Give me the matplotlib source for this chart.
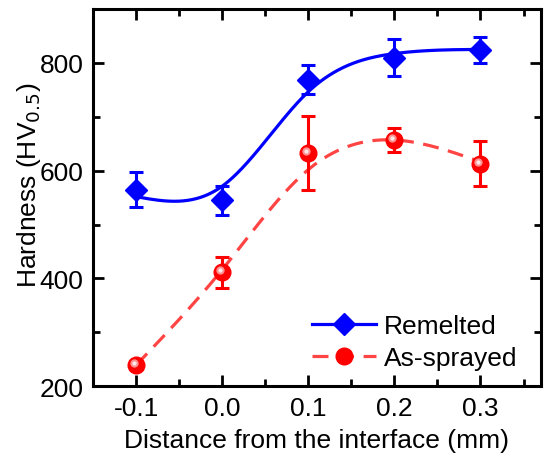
import numpy as np
import matplotlib
matplotlib.use("Agg")
import matplotlib.pyplot as plt
from matplotlib.lines import Line2D
from matplotlib.ticker import MultipleLocator
from matplotlib.transforms import ScaledTranslation

plt.rcParams['font.family'] = ['Liberation Sans', 'DejaVu Sans']

distance = [-0.1, 0.0, 0.1, 0.2, 0.3]
remelted = [565, 545, 769, 810, 824]
remelted_err = [32, 27, 27, 34, 24]
sprayed = [239, 411, 633, 657, 613]
sprayed_err = [8, 29, 68, 23, 42]

blue = '#0000ff'
red = '#ff0000'
red_line = '#ff4444'


def smoothing_spline(x, y, err, lam, n=401):
    """Discrete penalised (smoothing-spline) fit, weighted by 1/err^2."""
    x = np.asarray(x, float)
    y = np.asarray(y, float)
    w = 1.0 / np.asarray(err, float) ** 2
    grid = np.linspace(x.min(), x.max(), n)
    h = grid[1] - grid[0]
    idx = np.rint((x - grid[0]) / h).astype(int)
    S = np.zeros((len(x), n))
    S[np.arange(len(x)), idx] = 1.0
    D = np.diff(np.eye(n), 2, axis=0)
    A = S.T @ (w[:, None] * S) + (lam / h ** 3) * D.T @ D
    b = S.T @ (w * y)
    return grid, np.linalg.solve(A, b)


fig = plt.figure(figsize=(5.44, 4.56), dpi=100)
ax = fig.add_axes([0.171, 0.151, 0.823, 0.827])

xr, yr = smoothing_spline(distance, remelted, remelted_err, 4.5e-8)
xs, ys = smoothing_spline(distance, sprayed, sprayed_err, 2e-8)

ax.plot(xr, yr, color=blue, lw=2.3, zorder=2)
ax.plot(xs, ys, color=red_line, lw=2.3, dashes=(5, 3), zorder=2)

ax.errorbar(distance, remelted, yerr=remelted_err, fmt='none', ecolor=blue,
            elinewidth=2.2, capsize=5, capthick=2.2, zorder=3)
ax.errorbar(distance, sprayed, yerr=sprayed_err, fmt='none', ecolor=red,
            elinewidth=2.2, capsize=5, capthick=2.2, zorder=3)

ax.plot(distance, remelted, linestyle='none', marker='D', ms=11, color=blue, zorder=4)
ax.plot(distance, sprayed, linestyle='none', marker='o', ms=12, color=red, zorder=4)
# sphere-like highlight on the round markers
shift = ax.transData + ScaledTranslation(-2 / 100, 2 / 100, fig.dpi_scale_trans)
ax.plot(distance, sprayed, linestyle='none', marker='o', ms=6,
        markerfacecolor='#ff9090', markeredgecolor='none', zorder=5, transform=shift)
ax.plot(distance, sprayed, linestyle='none', marker='o', ms=3,
        markerfacecolor='#ffe8e8', markeredgecolor='none', zorder=6, transform=shift)

ax.set_xlim(-0.15, 0.37)
ax.set_ylim(200, 900)
ax.xaxis.set_minor_locator(MultipleLocator(0.05))
ax.yaxis.set_minor_locator(MultipleLocator(100))
ax.set_xticks([-0.1, 0.0, 0.1, 0.2, 0.3])
ax.set_xticklabels(['-0.1', '0.0', '0.1', '0.2', '0.3'])
ax.set_yticks([200, 400, 600, 800])

ax.tick_params(which='both', direction='in', top=True, right=True, labelsize=19, width=2, pad=7)
ax.tick_params(which='major', length=8)
ax.tick_params(which='minor', length=5)
for s in ax.spines.values():
    s.set_linewidth(2.2)

ax.set_xlabel('Distance from the interface (mm)', fontsize=19, labelpad=6)
ax.set_ylabel('Hardness (HV$_{0.5}$)', fontsize=19)
ax.yaxis.set_label_coords(-0.112, 0.535)

h1 = Line2D([], [], color=blue, lw=2.3, marker='D', ms=11)
h2 = Line2D([], [], color=red_line, lw=2.3, dashes=(5, 3), marker='o', ms=12,
            markerfacecolor=red, markeredgecolor=red)
ax.legend([h1, h2], ['Remelted', 'As-sprayed'], loc='lower right',
          bbox_to_anchor=(1.0, -0.02), frameon=False, fontsize=19,
          handlelength=2.4, handletextpad=0.3, labelspacing=0.3)

fig.savefig('out.png', dpi=100)
